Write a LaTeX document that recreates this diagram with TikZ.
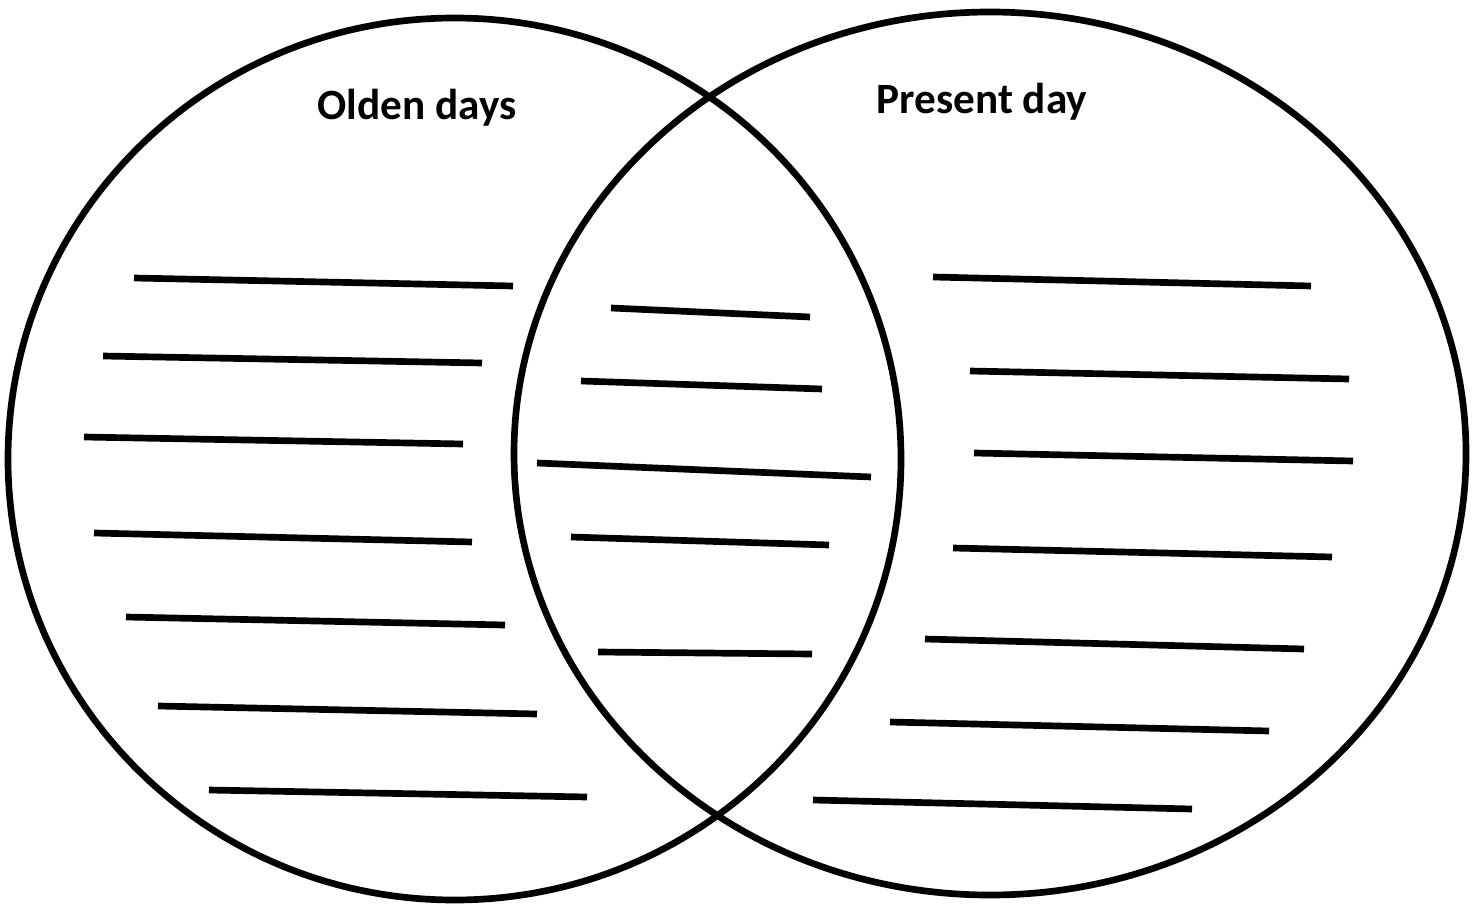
\documentclass[tikz,border=0pt]{standalone}
\usepackage{fontspec}
\setmainfont{Carlito}
\begin{document}
\begin{tikzpicture}[x=0.02cm, y=-0.02cm, line width=3.8pt]
\useasboundingbox (0,0) rectangle (1479,905);
\draw (454.5,459) ellipse [x radius=446.5, y radius=441];
\draw (990,453.5) ellipse [x radius=476, y radius=441.5];
\node (olden) at (417,108) {\fontsize{24.6}{29}\selectfont\bfseries Olden days};
\node (present) at (982,102) {\fontsize{24.6}{29}\selectfont\bfseries Present day};
\draw (134,278) -- (513,286);
\draw (103,356) -- (482,363);
\draw (84,437) -- (463,444);
\draw (94,533) -- (472,542);
\draw (126,617) -- (505,625);
\draw (158,706) -- (537,714);
\draw (209,790) -- (587,797);
\draw (611,308) -- (810,317);
\draw (581,381) -- (822,389);
\draw (537,463) -- (871,477);
\draw (571,537) -- (829,545);
\draw (598,652) -- (812,654);
\draw (933,277) -- (1311,286);
\draw (970,371) -- (1349,379);
\draw (974,453) -- (1353,461);
\draw (953,548) -- (1332,557);
\draw (925,639) -- (1304,649);
\draw (890,722) -- (1269,731);
\draw (813,800) -- (1192,809);
\end{tikzpicture}
\end{document}
